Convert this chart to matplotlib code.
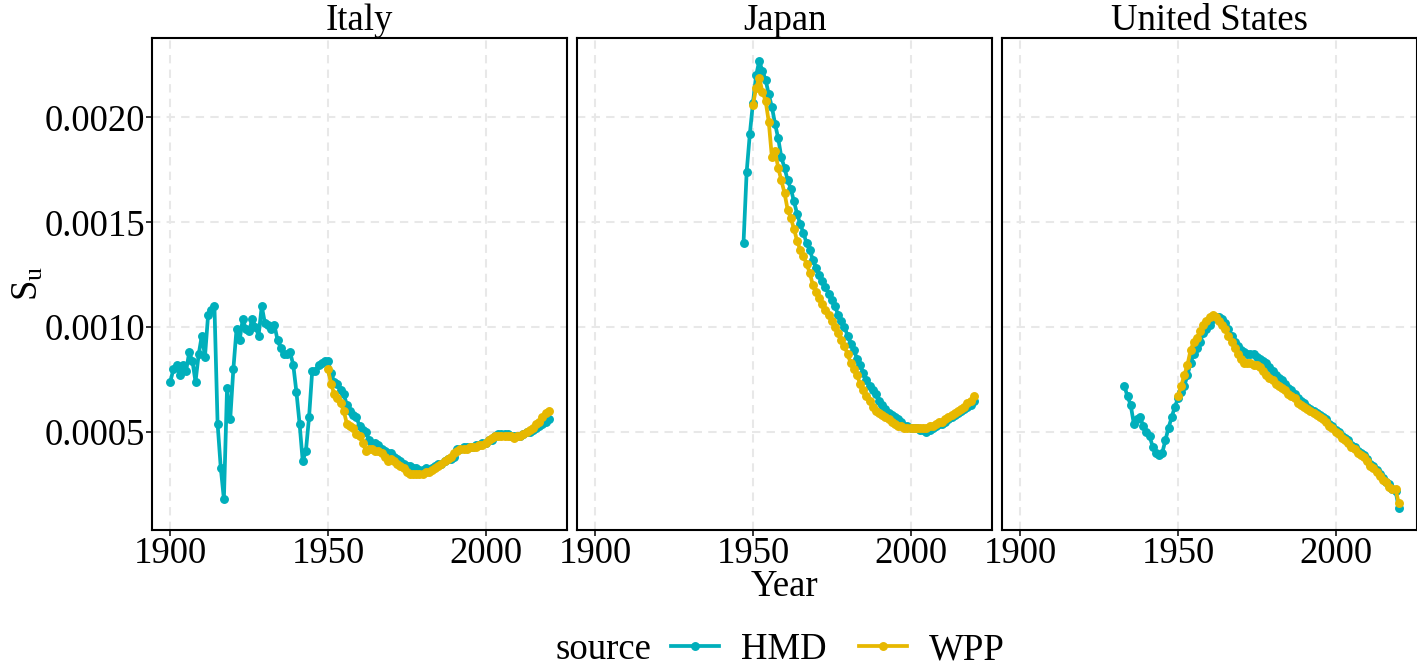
import numpy as np
import matplotlib.pyplot as plt
from matplotlib.lines import Line2D

plt.rcParams['font.family'] = ['Liberation Serif', 'DejaVu Serif']
plt.rcParams['mathtext.fontset'] = 'custom'
plt.rcParams['mathtext.rm'] = 'Liberation Serif'
plt.rcParams['mathtext.it'] = 'Liberation Serif:italic'

countries = ['Italy', 'Japan', 'United States']
sources = ['HMD', 'WPP']
colors = {'HMD': '#00AFBB', 'WPP': '#E7B800'}

# Italy
italy_hmd_start = 1900
italy_hmd = [
    0.00074, 0.00080, 0.00082, 0.00077, 0.00082, 0.00079, 0.00088, 0.00084, 0.00074, 0.00087,
    0.00096, 0.00086, 0.00106, 0.00108, 0.00110, 0.00054, 0.00033, 0.00018, 0.00071, 0.00056,
    0.00080, 0.00099, 0.00094, 0.00104, 0.00099, 0.00098, 0.00104, 0.00100, 0.00096, 0.00110,
    0.00102, 0.00101, 0.00099, 0.00101, 0.00094, 0.00090, 0.00087, 0.00087, 0.00088, 0.00082,
    0.00069, 0.00054, 0.00036, 0.00041, 0.00057, 0.00079, 0.00079, 0.00082, 0.00083, 0.00084,
    0.00084, 0.00078, 0.00074, 0.00073, 0.00070, 0.00068, 0.00063, 0.00060, 0.00058, 0.00057,
    0.00053, 0.00051, 0.00050, 0.00046, 0.00044, 0.00045, 0.00044, 0.00042, 0.00041, 0.00040,
    0.00040, 0.00038, 0.00037, 0.00036, 0.00035, 0.00034, 0.00034, 0.00033, 0.00033, 0.00032,
    0.00032, 0.00033, 0.00032, 0.00033, 0.00034, 0.00035, 0.00035, 0.00036, 0.00037, 0.00037,
    0.00038, 0.00042, 0.00042, 0.00043, 0.00043, 0.00043, 0.00043, 0.00044, 0.00044, 0.00045,
    0.00045, 0.00046, 0.00046, 0.00048, 0.00049, 0.00049, 0.00049, 0.00049, 0.00048, 0.00048,
    0.00048, 0.00048, 0.00049, 0.00050, 0.00050, 0.00051, 0.00052, 0.00053, 0.00054, 0.00055,
    0.00056,
]
italy_wpp_start = 1950
italy_wpp = [
    0.00080, 0.00073, 0.00068, 0.00066, 0.00064, 0.00060, 0.00054, 0.00053, 0.00052, 0.00049,
    0.00048, 0.00045, 0.00041, 0.00042, 0.00042, 0.00041, 0.00041, 0.00040, 0.00038, 0.00036,
    0.00037, 0.00036, 0.00035, 0.00034, 0.00033, 0.00031, 0.00030, 0.00030, 0.00030, 0.00030,
    0.00030, 0.00031, 0.00031, 0.00032, 0.00033, 0.00034, 0.00035, 0.00036, 0.00037, 0.00038,
    0.00040, 0.00041, 0.00042, 0.00042, 0.00042, 0.00043, 0.00043, 0.00043, 0.00044, 0.00044,
    0.00045, 0.00046, 0.00047, 0.00048, 0.00048, 0.00048, 0.00048, 0.00048, 0.00048, 0.00047,
    0.00048, 0.00048, 0.00049, 0.00050, 0.00051, 0.00052, 0.00054, 0.00055, 0.00057, 0.00059,
    0.00060,
]

# Japan
japan_hmd_start = 1947
japan_hmd = [
    0.00140, 0.00174, 0.00192,
    0.00207, 0.00220, 0.00227, 0.00222, 0.00218, 0.00211, 0.00205, 0.00197, 0.00190, 0.00181,
    0.00176, 0.00170, 0.00166, 0.00160, 0.00154, 0.00149, 0.00145, 0.00140, 0.00137, 0.00132,
    0.00128, 0.00125, 0.00122, 0.00119, 0.00116, 0.00113, 0.00110, 0.00106, 0.00103, 0.00100,
    0.00096, 0.00092, 0.00089, 0.00085, 0.00082, 0.00078, 0.00075, 0.00072, 0.00070, 0.00068,
    0.00065, 0.00063, 0.00061, 0.00059, 0.00058, 0.00057, 0.00056, 0.00055, 0.00053, 0.00053,
    0.00052, 0.00052, 0.00052, 0.00051, 0.00051, 0.00050, 0.00051, 0.00052, 0.00053, 0.00054,
    0.00054, 0.00055, 0.00056, 0.00057, 0.00058, 0.00059, 0.00060, 0.00061, 0.00062, 0.00063,
    0.00065,
]
japan_wpp_start = 1950
japan_wpp = [
    0.00206, 0.00214, 0.00219, 0.00212, 0.00208, 0.00198, 0.00181, 0.00184, 0.00176, 0.00170,
    0.00164, 0.00156, 0.00152, 0.00147, 0.00141, 0.00137, 0.00134, 0.00130, 0.00126, 0.00120,
    0.00117, 0.00114, 0.00111, 0.00108, 0.00106, 0.00103, 0.00100, 0.00097, 0.00094, 0.00091,
    0.00087, 0.00083, 0.00080, 0.00077, 0.00073, 0.00070, 0.00067, 0.00065, 0.00062, 0.00060,
    0.00059, 0.00058, 0.00057, 0.00056, 0.00055, 0.00054, 0.00053, 0.00053, 0.00052, 0.00052,
    0.00052, 0.00052, 0.00052, 0.00052, 0.00052, 0.00052, 0.00053, 0.00053, 0.00054, 0.00055,
    0.00055, 0.00056, 0.00057, 0.00058, 0.00059, 0.00060, 0.00061, 0.00062, 0.00064, 0.00065,
    0.00067,
]

# United States
us_hmd_start = 1933
us_hmd = [
    0.00072, 0.00067, 0.00063, 0.00054, 0.00056, 0.00057, 0.00053,
    0.00050, 0.00048, 0.00043, 0.00040, 0.00039, 0.00040, 0.00046, 0.00052, 0.00057, 0.00062,
    0.00066, 0.00069, 0.00072, 0.00077, 0.00083, 0.00087, 0.00090, 0.00093, 0.00097, 0.00099,
    0.00101, 0.00104, 0.00105, 0.00105, 0.00104, 0.00102, 0.00099, 0.00096, 0.00093, 0.00091,
    0.00089, 0.00088, 0.00087, 0.00087, 0.00087, 0.00086, 0.00085, 0.00084, 0.00083, 0.00081,
    0.00079, 0.00077, 0.00076, 0.00075, 0.00073, 0.00071, 0.00070, 0.00068, 0.00066, 0.00065,
    0.00064, 0.00062, 0.00061, 0.00060, 0.00059, 0.00058, 0.00057, 0.00056, 0.00054, 0.00053,
    0.00051, 0.00050, 0.00048, 0.00047, 0.00046, 0.00044, 0.00043, 0.00041, 0.00040, 0.00039,
    0.00037, 0.00035, 0.00034, 0.00032, 0.00030, 0.00028, 0.00026, 0.00025, 0.00023, 0.00022,
    0.00014,
]
us_wpp_start = 1950
us_wpp = [
    0.00067, 0.00072, 0.00077, 0.00082, 0.00089, 0.00093, 0.00095, 0.00098, 0.00101, 0.00103,
    0.00105, 0.00106, 0.00105, 0.00103, 0.00101, 0.00099, 0.00096, 0.00093, 0.00090, 0.00087,
    0.00085, 0.00083, 0.00083, 0.00083, 0.00082, 0.00082, 0.00081, 0.00079, 0.00077, 0.00076,
    0.00075, 0.00073, 0.00072, 0.00071, 0.00070, 0.00068, 0.00067, 0.00066, 0.00064, 0.00063,
    0.00062, 0.00061, 0.00060, 0.00059, 0.00058, 0.00057, 0.00056, 0.00055, 0.00053, 0.00052,
    0.00050, 0.00049, 0.00047, 0.00046, 0.00045, 0.00043, 0.00042, 0.00040, 0.00039, 0.00038,
    0.00036, 0.00034, 0.00033, 0.00031, 0.00029, 0.00027, 0.00026, 0.00024, 0.00023, 0.00023,
    0.00016,
]

series = {
    'Italy': {'HMD': (italy_hmd_start, italy_hmd), 'WPP': (italy_wpp_start, italy_wpp)},
    'Japan': {'HMD': (japan_hmd_start, japan_hmd), 'WPP': (japan_wpp_start, japan_wpp)},
    'United States': {'HMD': (us_hmd_start, us_hmd), 'WPP': (us_wpp_start, us_wpp)},
}

x_ticks = [1900, 1950, 2000]
y_ticks = [0.0005, 0.0010, 0.0015, 0.0020]
y_labels = ['0.0005', '0.0010', '0.0015', '0.0020']

FS = 26.5
LW, MS = 2.7, 5.4

W, H = 1417, 670
fig = plt.figure(figsize=(W / 100, H / 100), dpi=100)

left0, pw, gap = 152, 415, 10
top, bottom = 37.7, 530
axes = []
for i, c in enumerate(countries):
    l = left0 + i * (pw + gap)
    ax = fig.add_axes([l / W, 1 - bottom / H, pw / W, (bottom - top) / H])
    axes.append(ax)
    for s in sources:
        start, vals = series[c][s]
        yrs = np.arange(start, start + len(vals))
        ax.plot(yrs, vals, color=colors[s], lw=LW, marker='o', ms=MS, zorder=3)
    ax.set_xlim(1894.2, 2025.8)
    ax.set_ylim(0.000033, 0.00238)
    ax.set_xticks(x_ticks)
    ax.set_xticklabels([str(t) for t in x_ticks])
    ax.set_yticks(y_ticks)
    ax.grid(True, color='#E8E8E8', lw=1.5, ls=(0, (4, 3)), zorder=0)
    for sp in ax.spines.values():
        sp.set_color('black')
        sp.set_linewidth(1.5)
    ax.tick_params(axis='both', labelsize=FS, length=4, width=1.1, color='black', pad=1)
    ax.set_title(c, fontsize=FS, pad=2)
    if i == 0:
        ax.set_yticklabels(y_labels)
    else:
        ax.set_yticklabels([])
        ax.tick_params(axis='y', left=False)

fig.text(784.5 / W, 1 - 587 / H, 'Year', fontsize=FS, ha='center', va='center')
fig.text(28 / W, 1 - 283 / H, r'$\mathrm{S_u}$', fontsize=FS, ha='center', va='center',
         rotation=90)

# legend at the bottom
fig.text(603 / W, 1 - 650 / H, 'source', fontsize=FS, ha='center', va='center')
handles = [Line2D([], [], color=colors[s], lw=LW, marker='o', ms=MS) for s in sources]
fig.legend(handles, sources, loc='center', bbox_to_anchor=(838 / W, 1 - 650 / H),
           ncol=2, frameon=False, fontsize=FS, handlelength=1.3, handletextpad=0.6,
           columnspacing=0.9, borderpad=0)

fig.savefig('out.png', dpi=100)
